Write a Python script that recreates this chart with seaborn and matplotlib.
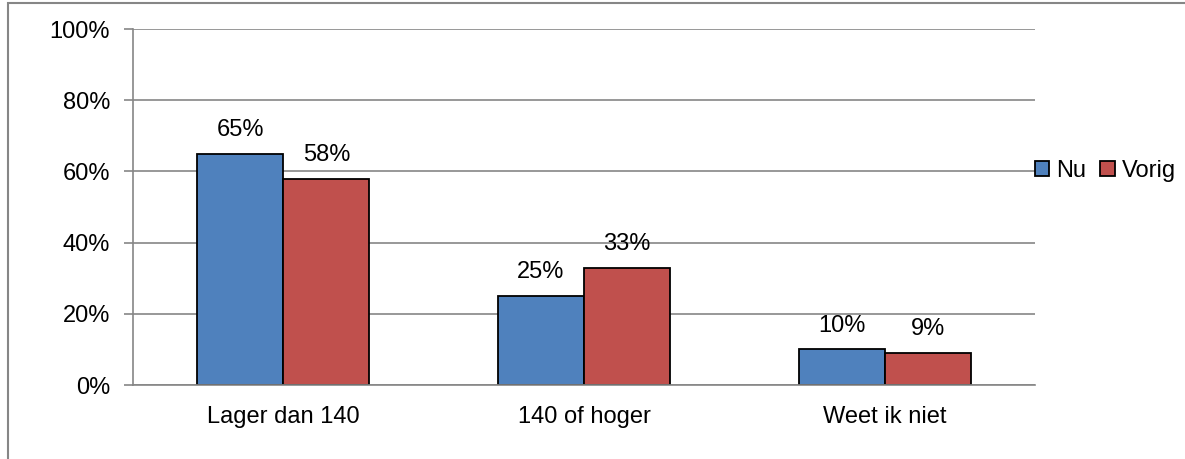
import matplotlib
matplotlib.use("Agg")
import matplotlib.pyplot as plt
import seaborn as sns
import pandas as pd
from matplotlib.patches import Rectangle, Patch

categories = ["Lager dan 140", "140 of hoger", "Weet ik niet"]
series = ["Nu", "Vorig"]
nu_values = [65, 25, 10]
vorig_values = [58, 33, 9]
y_ticks = [0, 20, 40, 60, 80, 100]

colors = {"Nu": "#4F81BD", "Vorig": "#C0504D"}
grey = "#868686"

df = pd.DataFrame({
    "categorie": categories * 2,
    "reeks": ["Nu"] * 3 + ["Vorig"] * 3,
    "waarde": nu_values + vorig_values,
})

sns.set_style("white")
plt.rcParams["font.family"] = ["Liberation Sans", "DejaVu Sans"]
plt.rcParams["text.color"] = "black"
plt.rcParams["xtick.color"] = "black"
plt.rcParams["ytick.color"] = "black"

fig = plt.figure(figsize=(11.85, 4.59), dpi=100)
ax = fig.add_axes([133 / 1185, 1 - 385 / 459, (1035 - 133) / 1185, (385 - 29) / 459])

sns.barplot(data=df, x="categorie", y="waarde", hue="reeks", order=categories,
            hue_order=series, palette=colors, width=0.572, gap=0,
            edgecolor="black", linewidth=1.3, saturation=1, ax=ax, legend=False)

# value labels above the bars
for container, vals in zip(ax.containers, [nu_values, vorig_values]):
    for bar, v in zip(container, vals):
        ax.annotate(f"{v}%", (bar.get_x() + bar.get_width() / 2, bar.get_height()),
                    xytext=(0, 9), textcoords="offset points",
                    ha="center", va="bottom", fontsize=17, color="black")

ax.set_ylim(0, 100)
ax.set_xlim(-0.5, 2.5)
ax.set_yticks(y_ticks)
ax.set_yticklabels([f"{t}%" for t in y_ticks])
ax.yaxis.grid(True, color=grey, linewidth=1.2)
ax.set_axisbelow(True)
ax.set_xlabel("")
ax.set_ylabel("")

for side in ["top", "right"]:
    ax.spines[side].set_visible(False)
for side in ["left", "bottom"]:
    ax.spines[side].set_color(grey)
    ax.spines[side].set_linewidth(1.2)

ax.tick_params(axis="y", length=6.5, width=1.2, color=grey, labelcolor="black",
               pad=10, labelsize=17, left=True)
ax.tick_params(axis="x", length=0, pad=15, labelsize=17, labelcolor="black")

handles = [Patch(facecolor=colors[s], edgecolor="black", linewidth=1.3, label=s) for s in series]
ax.legend(handles=handles, loc="center left", bbox_to_anchor=(1.0, 0.601), ncol=2,
          frameon=False, borderaxespad=0, borderpad=0, handlelength=0.6,
          handleheight=0.6, handletextpad=0.3, columnspacing=0.6, fontsize=17,
          labelcolor="black")

# outer chart border (top and left visible)
fig.patches.append(Rectangle((8 / 1185, -0.1), 1.2, 1.1 - 3 / 459, transform=fig.transFigure,
                             fill=False, edgecolor=grey, linewidth=1.5))

fig.savefig("out.png", dpi=100)
